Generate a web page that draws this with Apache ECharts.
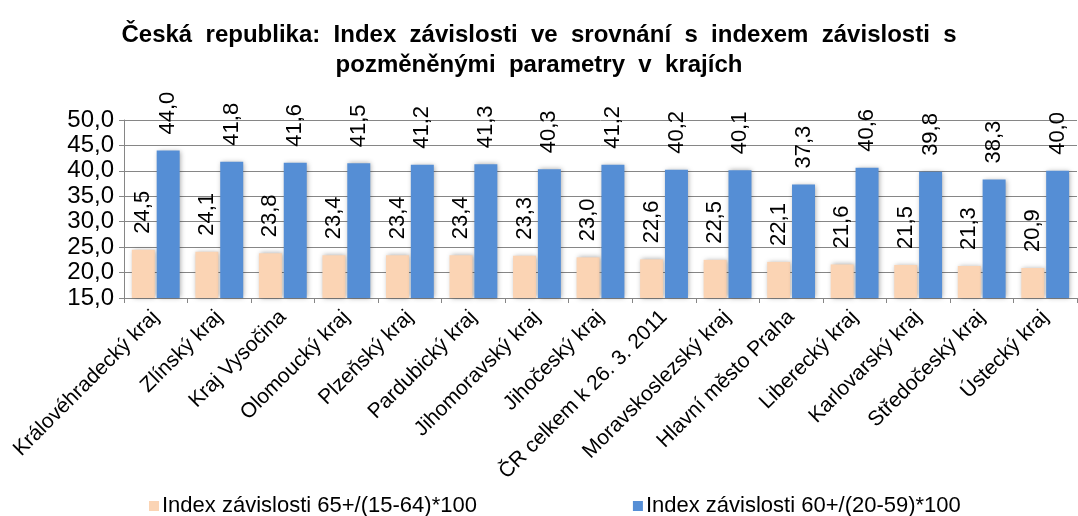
<!DOCTYPE html>
<html>
<head>
<meta charset="utf-8">
<script src="https://cdn.jsdelivr.net/npm/echarts@6/dist/echarts.min.js"></script>
<style>
html, body { margin: 0; padding: 0; background: #fff; }
#chart { width: 1078px; height: 516px; }
</style>
</head>
<body>
<div id="chart"></div>
<script>
var categories = ['Královéhradecký kraj', 'Zlínský kraj', 'Kraj Vysočina', 'Olomoucký kraj', 'Plzeňský kraj',
    'Pardubický kraj', 'Jihomoravský kraj', 'Jihočeský kraj', 'ČR celkem k 26. 3. 2011', 'Moravskoslezský kraj',
    'Hlavní město Praha', 'Liberecký kraj', 'Karlovarský kraj', 'Středočeský kraj', 'Ústecký kraj'];
var index65 = [24.5, 24.1, 23.8, 23.4, 23.4, 23.4, 23.3, 23.0, 22.6, 22.5, 22.1, 21.6, 21.5, 21.3, 20.9];
var index60 = [44.0, 41.8, 41.6, 41.5, 41.2, 41.3, 40.3, 41.2, 40.2, 40.1, 37.3, 40.6, 39.8, 38.3, 40.0];
var seriesNames = ['Index závislosti 65+/(15-64)*100', 'Index závislosti 60+/(20-59)*100'];

var font = 'Liberation Sans, Arial, sans-serif';
function fmt(v) { return v.toFixed(1).replace('.', ','); }

var chart = echarts.init(document.getElementById('chart'));

var labelStyle = {
    show: true,
    position: 'top',
    rotate: 90,
    align: 'left',
    verticalAlign: 'middle',
    distance: 16,
    fontFamily: font,
    fontSize: 22,
    color: '#000',
    formatter: function (p) { return fmt(p.value); }
};

var option = {
    animation: false,
    title: {
        text: 'Česká  republika:  Index  závislosti  ve  srovnání  s  indexem  závislosti  s\npozměněnými  parametry  v  krajích',
        left: 'center',
        top: 15,
        textStyle: {
            fontFamily: font,
            fontSize: 24,
            fontWeight: 'bold',
            color: '#000',
            lineHeight: 30
        }
    },
    legend: {
        data: seriesNames,
        left: 144,
        top: 490,
        itemWidth: 10,
        itemHeight: 10,
        itemGap: 156,
        icon: 'rect',
        textStyle: { fontFamily: font, fontSize: 22, color: '#000', padding: [0, 0, 0, -2] }
    },
    grid: {
        left: 124,
        right: 1,
        top: 120,
        bottom: 218,
        containLabel: false
    },
    xAxis: {
        type: 'category',
        data: categories,
        axisLine: { lineStyle: { color: '#868686' } },
        axisTick: { show: true, length: 5, lineStyle: { color: '#868686' } },
        axisLabel: {
            interval: 0,
            rotate: 45,
            margin: 16,
            fontFamily: font,
            fontSize: 21,
            color: '#000'
        }
    },
    yAxis: {
        type: 'value',
        min: 15,
        max: 50,
        interval: 5,
        axisLine: { show: true, lineStyle: { color: '#868686' } },
        axisTick: { show: true, length: 5, lineStyle: { color: '#868686' } },
        splitLine: { lineStyle: { color: '#868686', width: 1 } },
        axisLabel: {
            margin: 10,
            fontFamily: font,
            fontSize: 24,
            color: '#000',
            formatter: function (v) { return fmt(v); }
        }
    },
    series: [
        {
            name: seriesNames[0],
            type: 'bar',
            data: index65,
            barWidth: 23,
            barGap: '8%',
            itemStyle: {
                color: '#FBD4B4',
                shadowBlur: 5,
                shadowColor: 'rgba(0,0,0,0.35)',
                shadowOffsetX: 1
            },
            label: labelStyle
        },
        {
            name: seriesNames[1],
            type: 'bar',
            data: index60,
            barWidth: 23,
            itemStyle: {
                color: '#558ED5',
                shadowBlur: 5,
                shadowColor: 'rgba(0,0,0,0.35)',
                shadowOffsetX: 1
            },
            label: labelStyle
        }
    ]
};

chart.setOption(option);
</script>
</body>
</html>
